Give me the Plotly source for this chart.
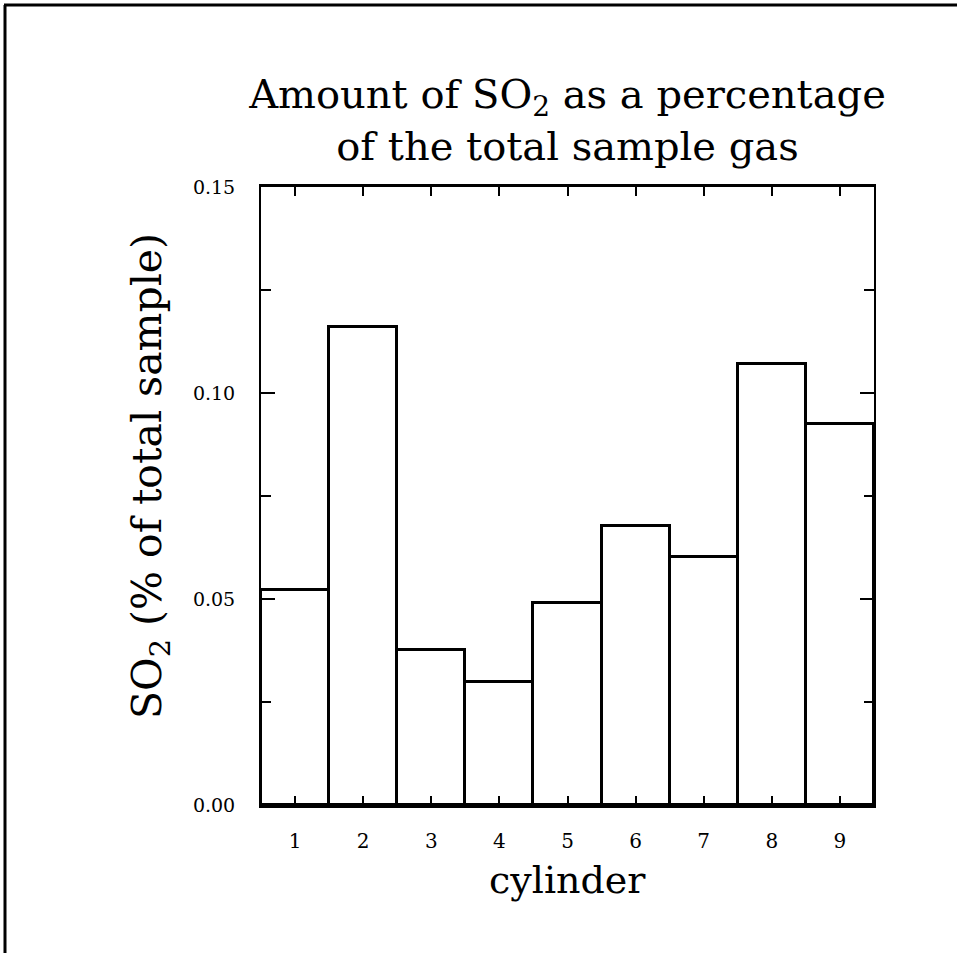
import plotly.graph_objects as go

cylinders = [1, 2, 3, 4, 5, 6, 7, 8, 9]
so2_pct = [0.0522, 0.116, 0.0376, 0.0299, 0.049, 0.0677, 0.0603, 0.107, 0.0925]
y_ticks = [0.00, 0.05, 0.10, 0.15]
y_tick_labels = ["0.00", "0.05", "0.10", "0.15"]

title_text = "Amount of SO<sub>2</sub> as a percentage<br>of the total sample gas"
y_title = "SO<sub>2</sub> (% of total sample)"
x_title = "cylinder"

FONT = "DejaVu Serif"
OFF = 0  # body margin removed by post_script

W, H = 957, 953
PX0, PX1, PY0, PY1 = 261, 874, 187, 805
L = PX0 - OFF
T = PY0 - OFF
R = W - (PX1 - OFF)
B = H - (PY1 - OFF)
pw, ph = W - L - R, H - T - B


def px_x(px):
    return (px - OFF - L) / pw


def px_y(py):
    return (H - B - (py - OFF)) / ph


fig = go.Figure()
fig.add_trace(go.Bar(
    x=cylinders, y=so2_pct, width=1.0,
    marker=dict(color="white", line=dict(color="black", width=3)),
    showlegend=False,
))

fig.update_layout(
    width=W, height=H,
    margin=dict(l=L, r=R, t=T, b=B, autoexpand=False),
    paper_bgcolor="white", plot_bgcolor="white",
    font=dict(family=FONT, color="black"),
    title=dict(text=title_text, x=0.5, xref="paper", xanchor="center",
               y=1 - (108 - OFF) / H, yref="container", yanchor="middle",
               font=dict(family=FONT, size=40, color="black")),
    bargap=0,
)

fig.update_xaxes(
    range=[0.5, 9.5], tickmode="array", tickvals=cylinders,
    ticktext=[str(c) for c in cylinders],
    ticks="inside", ticklen=9, tickwidth=2, tickcolor="black",
    showline=True, linecolor="black", linewidth=3, mirror="ticks",
    showgrid=False, zeroline=False,
    tickfont=dict(family=FONT, size=20, color="black"),
    ticklabelstandoff=16,
)
fig.update_yaxes(
    range=[0, 0.15], tickmode="array", tickvals=y_ticks, ticktext=y_tick_labels,
    ticks="inside", ticklen=14, tickwidth=2, tickcolor="black",
    minor=dict(tickvals=[0.025, 0.075, 0.125], ticks="inside", ticklen=10,
               tickwidth=2, tickcolor="black"),
    showline=True, linecolor="black", linewidth=2, mirror="ticks",
    showgrid=False, zeroline=False,
    tickfont=dict(family=FONT, size=19, color="black"),
    ticklabelstandoff=20,
)

fig.add_annotation(text=y_title, xref="paper", yref="paper",
                   x=px_x(150), y=px_y(476), textangle=-90, showarrow=False,
                   xanchor="center", yanchor="middle",
                   font=dict(family=FONT, size=41, color="black"))
fig.add_annotation(text=x_title, xref="paper", yref="paper",
                   x=px_x(567), y=px_y(880), showarrow=False,
                   xanchor="center", yanchor="middle",
                   font=dict(family=FONT, size=38, color="black"))

# outer page border (left and top)
fig.add_shape(type="line", xref="paper", yref="paper",
              x0=px_x(5), x1=px_x(5), y0=px_y(5), y1=px_y(970),
              line=dict(color="black", width=3))
fig.add_shape(type="line", xref="paper", yref="paper",
              x0=px_x(4), x1=px_x(970), y0=px_y(5), y1=px_y(5),
              line=dict(color="black", width=3))

fig.write_html("out.html",
               config={"displayModeBar": False},
               post_script="document.body.style.margin='0';document.body.style.overflow='hidden';")
